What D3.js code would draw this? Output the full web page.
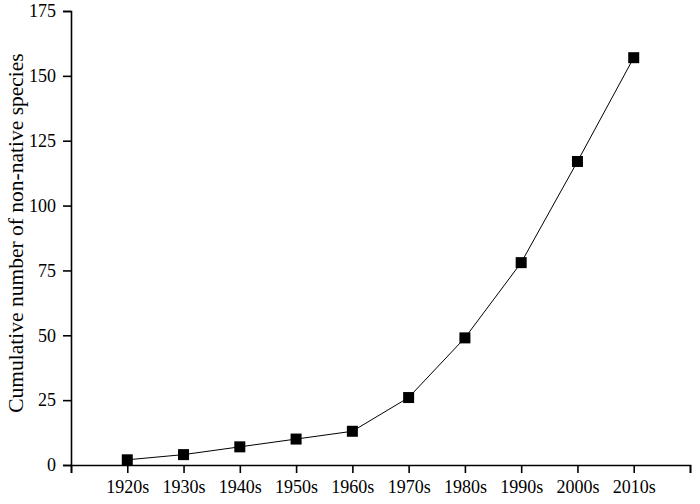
<!DOCTYPE html>
<html>
<head>
<meta charset="utf-8">
<script src="https://cdn.jsdelivr.net/npm/d3@7"></script>
<style>
  body { margin: 0; background: #fff; }
  svg { display: block; }
  text { font-family: "Liberation Serif", "Times New Roman", serif; fill: #000; }
</style>
</head>
<body>
<svg id="chart"></svg>
<script>
// data
const decades = ["1920s", "1930s", "1940s", "1950s", "1960s", "1970s", "1980s", "1990s", "2000s", "2010s"];
const cumulative = [2, 4, 7, 10, 13, 26, 49, 78, 117, 157];
const yTicks = [0, 25, 50, 75, 100, 125, 150, 175];

const width = 700;
const height = 504;
const margin = { top: 11, right: 10, bottom: 39, left: 71 };

const svg = d3.select("#chart").attr("width", width).attr("height", height);

// categories sit at 1..10 on a 0..11 axis
const x = d3.scaleLinear()
  .domain([0, decades.length + 1])
  .range([margin.left, width - margin.right]);
const y = d3.scaleLinear()
  .domain([0, 175])
  .range([height - margin.bottom, margin.top]);

const data = decades.map((d, i) => ({ name: d, pos: i + 1, value: cumulative[i] }));

//x axis
svg.append("g")
  .attr("transform", `translate(0,${y(0)})`)
  .call(d3.axisBottom(x)
    .tickValues(d3.range(0, decades.length + 2))
    .tickFormat((d) => (d >= 1 && d <= decades.length ? decades[d - 1] : ""))
    .tickSizeOuter(0)
    .tickSize(8)
    .tickPadding(7))
  .call((g) => g.selectAll("path, line").attr("stroke", "#000").attr("stroke-width", 1.6))
  .call((g) => g.selectAll("text").style("font-size", "18px"));

//y axis
svg.append("g")
  .attr("transform", `translate(${x(0)},0)`)
  .call(d3.axisLeft(y)
    .tickValues(yTicks)
    .tickSizeOuter(0)
    .tickSize(8)
    .tickPadding(7))
  .call((g) => g.selectAll("path, line").attr("stroke", "#000").attr("stroke-width", 1.6))
  .call((g) => g.selectAll("text").style("font-size", "18px"));

svg.append("text")
  .attr("transform", `translate(23,233) rotate(-90)`)
  .attr("text-anchor", "middle")
  .style("font-size", "21.5px")
  .text("Cumulative number of non-native species");

//line
const line = d3.line()
  .x((d) => x(d.pos))
  .y((d) => y(d.value));

svg.append("path")
  .datum(data)
  .attr("fill", "none")
  .attr("stroke", "#000")
  .attr("stroke-width", 1)
  .attr("d", line);

//markers
const s = 11;
svg.append("g")
  .selectAll("rect")
  .data(data)
  .join("rect")
  .attr("x", (d) => x(d.pos) - s / 2)
  .attr("y", (d) => y(d.value) - s / 2)
  .attr("width", s)
  .attr("height", s)
  .attr("fill", "#000");
</script>
</body>
</html>
